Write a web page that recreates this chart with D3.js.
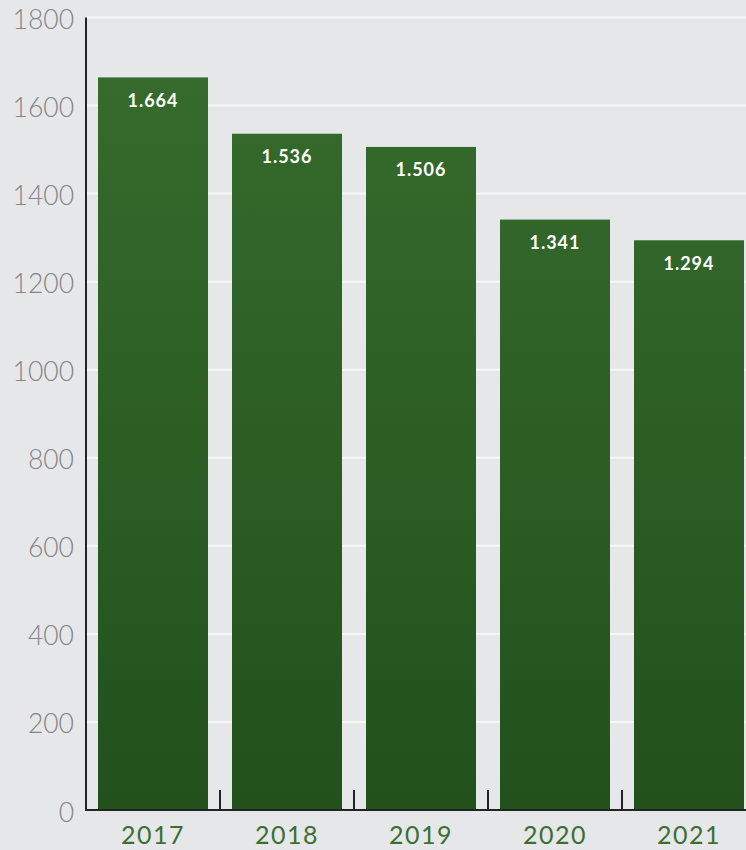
<!DOCTYPE html>
<html>
<head>
<meta charset="utf-8">
<script src="https://cdn.jsdelivr.net/npm/d3@7"></script>
<style>
  html, body { margin: 0; padding: 0; background: #e6e7e9; }
  svg { display: block; }
</style>
</head>
<body>
<svg id="chart" width="746" height="850"></svg>
<script>
// Annual totals
const years = ["2017", "2018", "2019", "2020", "2021"];
const totals = [1664, 1536, 1506, 1341, 1294];
const valueLabels = ["1.664", "1.536", "1.506", "1.341", "1.294"];
const yTicks = [0, 200, 400, 600, 800, 1000, 1200, 1400, 1600, 1800];

(function () {
const svg = d3.select("#chart");
const W = 746;
const mLeft = 86, mTop = 17.5, mBottom = 810;
const step = 134;

const x = d3.scaleBand()
  .domain(years)
  .range([mLeft, mLeft + step * years.length])
  .paddingInner(24 / 134)
  .paddingOuter(12 / 134);

const y = d3.scaleLinear().domain([0, 1800]).range([mBottom, mTop]);

// bar gradient
const defs = svg.append("defs");
const grad = defs.append("linearGradient")
  .attr("id", "barGrad")
  .attr("gradientUnits", "userSpaceOnUse")
  .attr("x1", 0).attr("x2", 0)
  .attr("y1", y(1800)).attr("y2", y(0));
grad.append("stop").attr("offset", 0).attr("stop-color", "#386d2e");
grad.append("stop").attr("offset", 1).attr("stop-color", "#22511c");

// gridlines
svg.append("g")
  .selectAll("line")
  .data(yTicks)
  .join("line")
  .attr("x1", mLeft).attr("x2", W)
  .attr("y1", d => y(d)).attr("y2", d => y(d))
  .attr("stroke", d => d === 0 ? "#b8b9bb" : "#f7f7f8")
  .attr("stroke-width", 2);

// y tick labels
svg.append("g")
  .selectAll("text")
  .data(yTicks)
  .join("text")
  .attr("x", 74)
  .attr("y", d => y(d) + 2)
  .attr("dy", "0.36em")
  .attr("text-anchor", "end")
  .attr("fill", "#848587")
  .attr("font-family", "Lato, 'Open Sans', sans-serif")
  .attr("font-weight", 300)
  .attr("font-size", 26.5)
  .text(d => d);

// bars
svg.append("g")
  .selectAll("rect")
  .data(totals)
  .join("rect")
  .attr("x", (d, i) => x(years[i]))
  .attr("y", d => y(d))
  .attr("width", x.bandwidth())
  .attr("height", d => y(0) - y(d))
  .attr("fill", "url(#barGrad)");

// value labels
svg.append("g")
  .selectAll("text")
  .data(totals)
  .join("text")
  .attr("x", (d, i) => x(years[i]) + x.bandwidth() / 2)
  .attr("y", d => y(d) + 29.5)
  .attr("text-anchor", "middle")
  .attr("fill", "#ffffff")
  .attr("font-family", "Lato, 'Open Sans', sans-serif")
  .attr("font-weight", "bold")
  .attr("font-size", 18)
  .attr("letter-spacing", 1)
  .text((d, i) => valueLabels[i]);

// axis lines
svg.append("line")
  .attr("x1", mLeft).attr("x2", mLeft)
  .attr("y1", mTop).attr("y2", mBottom + 1)
  .attr("stroke", "#222326").attr("stroke-width", 2);
svg.append("line")
  .attr("x1", mLeft - 1).attr("x2", W)
  .attr("y1", mBottom).attr("y2", mBottom)
  .attr("stroke", "#222326").attr("stroke-width", 2);

// x ticks between bands
svg.append("g")
  .selectAll("line")
  .data(years.slice(1))
  .join("line")
  .attr("x1", d => x(d) - x.step() * x.paddingInner() / 2)
  .attr("x2", d => x(d) - x.step() * x.paddingInner() / 2)
  .attr("y1", mBottom - 20).attr("y2", mBottom)
  .attr("stroke", "#222326").attr("stroke-width", 2);

// x labels
svg.append("g")
  .selectAll("text")
  .data(years)
  .join("text")
  .attr("x", d => x(d) + x.bandwidth() / 2)
  .attr("y", 844)
  .attr("text-anchor", "middle")
  .attr("fill", "#3b6f31")
  .attr("font-family", "Lato, 'Open Sans', sans-serif")
  .attr("font-size", 25)
  .attr("letter-spacing", 1.5)
  .text(d => d);
})();
</script>
</body>
</html>
